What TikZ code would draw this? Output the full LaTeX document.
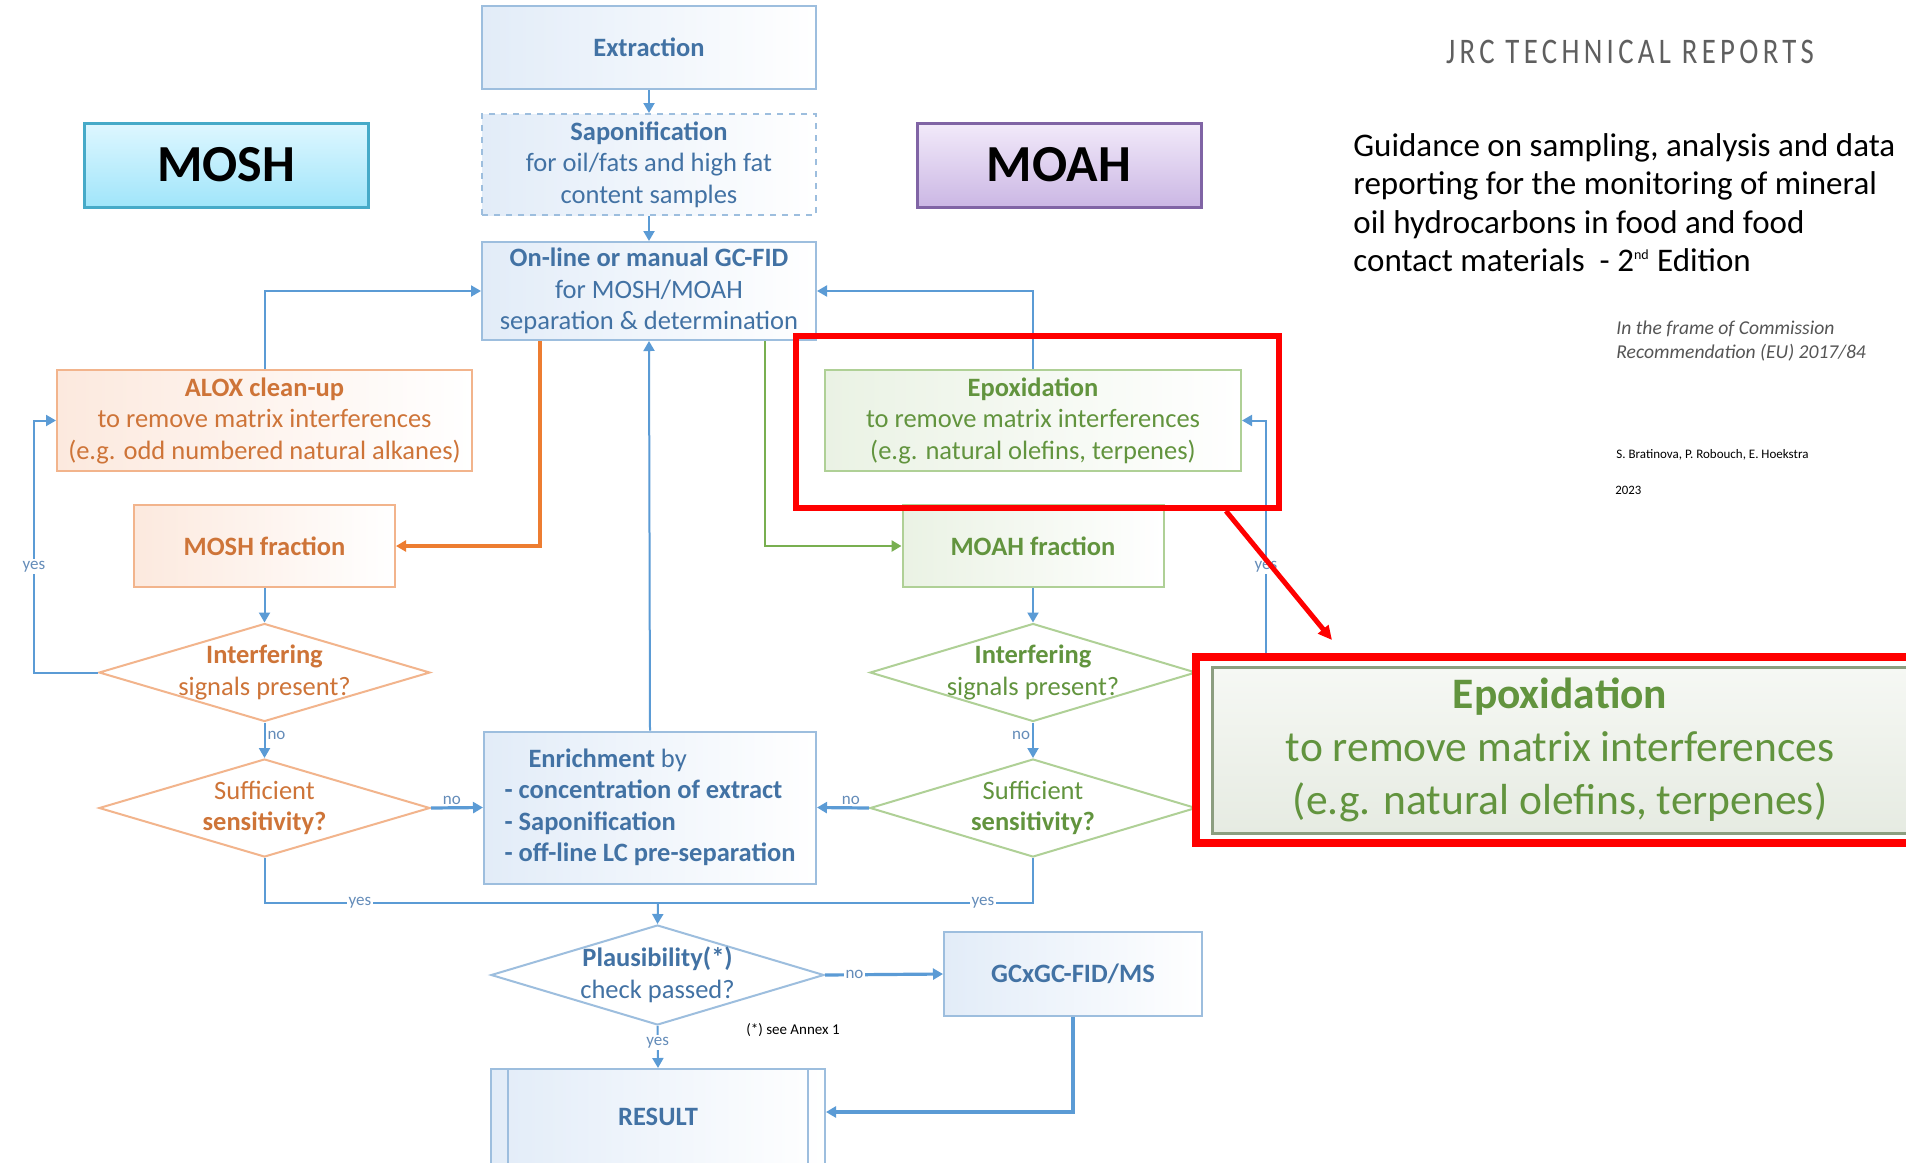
\documentclass[tikz,border=0pt]{standalone}
\usepackage{fontspec}
\setmainfont{Carlito}
\newfontfamily\jrcfont[FakeStretch=0.8,LetterSpace=12]{Carlito}
\usepackage{tikz}
\usetikzlibrary{positioning}
\usetikzlibrary{arrows.meta}
\usetikzlibrary{shapes.geometric}
\usepackage{xcolor}

\definecolor{blueline}{RGB}{91,155,213}
\definecolor{bluebd}{RGB}{157,190,222}
\definecolor{bluetx}{RGB}{66,114,164}
\definecolor{bluetint}{RGB}{226,236,248}
\definecolor{orangeline}{RGB}{237,125,49}
\definecolor{orangebd}{RGB}{242,180,140}
\definecolor{orangetx}{RGB}{206,116,56}
\definecolor{orangetint}{RGB}{252,233,222}
\definecolor{greenline}{RGB}{120,175,80}
\definecolor{greenbd}{RGB}{175,208,150}
\definecolor{greentx}{RGB}{98,148,62}
\definecolor{greentint}{RGB}{234,242,228}
\definecolor{tagtx}{RGB}{100,140,185}
\definecolor{moshbd}{RGB}{70,170,200}
\definecolor{moshtop}{RGB}{222,247,255}
\definecolor{moshbot}{RGB}{160,229,250}
\definecolor{moahbd}{RGB}{128,100,165}
\definecolor{moahtop}{RGB}{242,234,250}
\definecolor{moahbot}{RGB}{203,183,228}
\definecolor{zoombd}{RGB}{140,158,128}
\definecolor{zoomtop}{RGB}{246,248,244}
\definecolor{zoombot}{RGB}{230,235,226}
\definecolor{jrcgray}{RGB}{95,95,95}
\definecolor{notegray}{RGB}{85,85,85}

\newcommand\flowfont{\fontsize{13.25}{15.75}\selectfont}
\newcommand\tagfont{\fontsize{8.5}{10}\selectfont}

\begin{document}
\begin{tikzpicture}[x=0.5pt, y=-0.5pt,
  every node/.style={font=\flowfont},
  flowbox/.style={draw=#1bd, line width=1pt, left color=#1tint, right color=white,
    text=#1tx, align=center, inner sep=0pt},
  decision/.style={diamond, draw=#1bd, line width=1pt, fill=white, inner sep=0pt,
    minimum width=165.5pt, minimum height=49pt},
  dtext/.style={text=#1tx, align=center, inner sep=0pt},
  flow/.style={draw=blueline, line width=1pt, -{Triangle[length=5pt, width=5.5pt]}},
  thickflow/.style={flow, line width=1.6pt},
  tag/.style={font=\tagfont, text=tagtx, inner sep=1pt},
  zoomarrow/.style={draw=red, line width=2.5pt, -{Triangle[length=7pt, width=6.5pt]}}]

\useasboundingbox (0,0) rectangle (1906,1162);
\clip (0,0) rectangle (1906,1162);
\fill[white] (0,0) rectangle (1906,1162);

% main column
\node[flowbox=blue, minimum width=167pt, minimum height=41.5pt] (extr) at (649,47.5) {\textbf{Extraction}};
\node[flowbox=blue, dashed, minimum width=167pt, minimum height=50.5pt] (sapon) at (649,164.5)
  {\textbf{Saponification}\\for oil/fats and high fat\\content samples};
\node[flowbox=blue, minimum width=167pt, minimum height=49pt] (gcfid) at (649,291)
  {\textbf{On-line or manual GC-FID}\\for MOSH/MOAH\\separation \& determination};

% fraction labels
\node[draw=moshbd, line width=1.5pt, top color=moshtop, bottom color=moshbot,
  minimum width=142pt, minimum height=42pt, font=\fontsize{26}{30}\selectfont\bfseries] (mosh) at (226,165) {MOSH};
\node[draw=moahbd, line width=1.5pt, top color=moahtop, bottom color=moahbot,
  minimum width=142pt, minimum height=42pt, font=\fontsize{26}{30}\selectfont\bfseries] (moah) at (1059,165) {MOAH};

% MOSH branch
\node[flowbox=orange, minimum width=207.5pt, minimum height=50.5pt] (alox) at (264.5,420.5)
  {\textbf{ALOX clean-up}\\to remove matrix interferences\\(e.g. odd numbered natural alkanes)};
\node[flowbox=orange, minimum width=130.5pt, minimum height=41pt] (moshfr) at (264.5,546) {\textbf{MOSH fraction}};
\node[decision=orange, label={[dtext=orange]center:{\textbf{Interfering}\\signals present?}}] (moshint) at (264.5,672.5) {};
\node[decision=orange, label={[dtext=orange]center:{Sufficient\\\textbf{sensitivity?}}}] (moshsuf) at (264.5,808) {};

% MOAH branch
\node[flowbox=green, minimum width=208pt, minimum height=50.5pt] (epox) at (1033,420.5)
  {\textbf{Epoxidation}\\to remove matrix interferences\\(e.g. natural olefins, terpenes)};
\node[flowbox=green, minimum width=130.5pt, minimum height=41pt] (moahfr) at (1033,546) {\textbf{MOAH fraction}};
\node[decision=green, minimum width=163pt, label={[dtext=green]center:{\textbf{Interfering}\\signals present?}}] (moahint) at (1033,672.5) {};
\node[decision=green, minimum width=163pt, label={[dtext=green]center:{Sufficient\\\textbf{sensitivity?}}}] (moahsuf) at (1033,808) {};

% enrichment and result
\node[flowbox=blue, align=left, minimum width=166pt, minimum height=76pt] (enrich) at (650,807.5)
  {\hspace*{12pt}\textbf{Enrichment} by\\\textbf{- concentration of extract}\\\textbf{- Saponification}\\\textbf{- off-line LC pre-separation}};
\node[decision=blue, minimum width=166.5pt, minimum height=50pt,
  label={[dtext=blue]center:{\textbf{Plausibility(*)}\\check passed?}}] (plaus) at (657.5,975) {};
\node[flowbox=blue, minimum width=129pt, minimum height=42pt] (gcxgc) at (1073,974) {\textbf{GCxGC-FID/MS}};
\node[flowbox=blue, minimum width=167pt, minimum height=48pt] (result) at (658,1117) {\textbf{RESULT}};
\draw[bluebd, line width=1pt] ([xshift=9pt]result.north west) -- ([xshift=9pt]result.south west);
\draw[bluebd, line width=1pt] ([xshift=-9pt]result.north east) -- ([xshift=-9pt]result.south east);
\node[font=\fontsize{7.5}{9}\selectfont, text=black] (annex) at (793,1030) {(*) see Annex 1};

% connectors
\draw[flow] (extr.south) -- (sapon.north);
\draw[flow] (sapon.south) -- (gcfid.north);
\draw[flow] (alox.north) |- (gcfid.west);
\draw[flow] (epox.north) |- (gcfid.east);
\draw[draw=orangeline, line width=1.6pt, -{Triangle[length=5pt, width=5.5pt]}] ([xshift=-54.5pt]gcfid.south) |- (moshfr.east);
\draw[draw=greenline, line width=1.3pt, -{Triangle[length=5pt, width=5.5pt]}] ([xshift=58pt]gcfid.south) |- (moahfr.west);
\draw[flow] (enrich.north) -- (gcfid.south);

\draw[flow] (moshfr.south) -- (moshint.north);
\draw[flow] (moshint.south) -- node[tag, right, pos=0.35] (no1) {no} (moshsuf.north);
\draw[flow] (moshint.west) -- ++(-64,0) |- node[tag, fill=white, pos=0.21] (yes1) {yes} (alox.west);
\draw[thickflow] (moshsuf.east) -- node[tag, above, pos=0.4] (no2) {no} (enrich.west);

\draw[flow] (moahfr.south) -- (moahint.north);
\draw[flow] (moahint.south) -- node[tag, left, pos=0.35] (no4) {no} (moahsuf.north);
\draw[flow] (moahint.east) -- ++(69,0) |- node[tag, fill=white, pos=0.21] (yes5) {yes} (epox.east);
\draw[thickflow] (moahsuf.west) -- node[tag, above, pos=0.35] (no3) {no} (enrich.east);

\coordinate (join) at (658,903);
\draw[blueline, line width=1pt] (moshsuf.south) |- (join) -| (moahsuf.south);
\node[tag, fill=white] (yes2) at (360,903) {yes};
\node[tag, fill=white] (yes3) at (983,903) {yes};
\draw[flow] (join) -- (plaus.north);
\draw[thickflow] (plaus.east) -- node[tag, fill=white, pos=0.25] (no5) {no} (gcxgc.west);
\draw[flow] (plaus.south) -- node[tag, fill=white, pos=0.4] (yes4) {yes} (result.north);
\draw[thickflow] (gcxgc.south) |- ([yshift=-22pt]result.north east);

% cover page text
\node[font=\jrcfont\fontsize{18}{20}\selectfont, text=jrcgray] (jrc) at (1630,52) {JRC TECHNICAL REPORTS};
\node[anchor=north west, align=left, inner sep=0pt, font=\fontsize{16.5}{19.25}\selectfont] (title) at (1353,133)
  {Guidance on sampling, analysis and data\\reporting for the monitoring of mineral\\oil hydrocarbons in food and food\\contact materials \ - 2\textsuperscript{\scriptsize nd} Edition};
\node[anchor=north west, align=left, inner sep=0pt, text=notegray, font=\fontsize{9.8}{12}\selectfont\itshape] (frame) at (1616,320)
  {In the frame of Commission\\Recommendation (EU) 2017/84};
\node[anchor=base west, inner sep=0pt, font=\fontsize{6.5}{8}\selectfont] (authors) at (1616,458) {S. Bratinova, P. Robouch, E. Hoekstra};
\node[anchor=base west, inner sep=0pt, font=\fontsize{6.4}{8}\selectfont] (year) at (1615,494) {2023};

% highlighted step and its enlargement
\node[draw=red, line width=3pt, minimum width=241.5pt, minimum height=86pt] (focus) at (1037.5,422) {};
\coordinate (zoomtip) at (1332,640);
\draw[zoomarrow] ([xshift=-28pt]focus.south east) -- (zoomtip);
\node[draw=red, line width=4pt, fill=white, minimum width=364pt, minimum height=93pt] (zoomframe) at (1560,750) {};
\node[draw=zoombd, line width=1.5pt, top color=zoomtop, bottom color=zoombot, text=greentx, align=center,
  minimum width=348pt, minimum height=83pt, inner sep=0pt, font=\fontsize{21.75}{26.5}\selectfont] (zoombox) at (1560,750)
  {\textbf{Epoxidation}\\to remove matrix interferences\\(e.g. natural olefins, terpenes)};
\end{tikzpicture}
\end{document}
